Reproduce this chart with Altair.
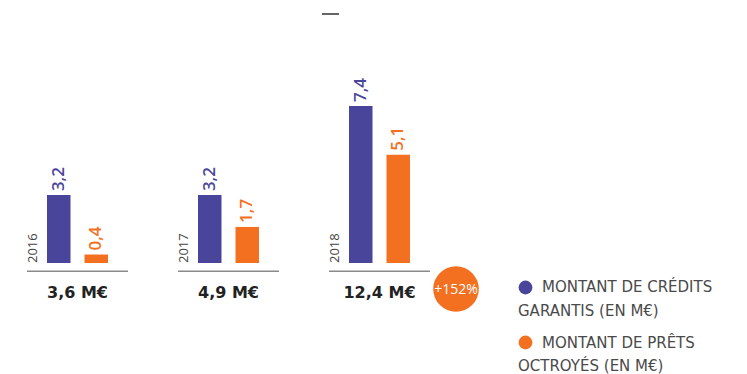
import altair as alt
import pandas as pd

years = ["2016", "2017", "2018"]
credits = [3.2, 3.2, 7.4]
prets = [0.4, 1.7, 5.1]
totals = ["3,6 M€", "4,9 M€", "12,4 M€"]
series = ["credits", "prets"]
growth = "+152%"
legend_lines_1 = ["MONTANT DE CRÉDITS", "GARANTIS (EN M€)"]
legend_lines_2 = ["MONTANT DE PRÊTS", "OCTROYÉS (EN M€)"]

PURPLE = "#48459b"
ORANGE = "#f37021"
FONT = "Open Sans"
WIDE = "DejaVu Sans"

rows = []
for i, y in enumerate(years):
    rows.append({"year": y, "series": "credits", "value": credits[i]})
    rows.append({"year": y, "series": "prets", "value": prets[i]})
df = pd.DataFrame(rows)
df["label"] = df["value"].map(lambda v: f"{v:.1f}".replace(".", ","))
tot = pd.DataFrame({"year": years, "total": totals})

xscale = alt.Scale(domain=years, range=[27, 430], paddingInner=50 / 151, paddingOuter=0)
xoff = alt.Scale(domain=series, paddingInner=14 / 37.5, paddingOuter=20 / 37.5)
yscale = alt.Scale(domain=[0, 7.4], range=[263, 106])
color = alt.Scale(domain=series, range=[PURPLE, ORANGE])

X = alt.X("year:N", scale=xscale, axis=None)
Y = alt.Y("value:Q", scale=yscale, axis=None)

base = alt.Chart(df)

bars = base.mark_bar().encode(
    x=X,
    xOffset=alt.XOffset("series:N", scale=xoff),
    y=Y,
    color=alt.Color("series:N", scale=color, legend=None),
)

vals = base.mark_text(angle=270, align="left", baseline="middle", dx=4,
                      font=FONT, fontSize=17, fontWeight=600).encode(
    x=X,
    xOffset=alt.XOffset("series:N", scale=xoff),
    y=Y,
    text="label:N",
    color=alt.Color("series:N", scale=color, legend=None),
)

tbase = alt.Chart(tot)
year_lbl = tbase.mark_text(angle=270, align="left", baseline="middle", dy=6,
                           font=FONT, fontSize=13, color="#444").encode(
    x=alt.X("year:N", scale=xscale, axis=None, bandPosition=0),
    y=alt.datum(0, scale=yscale),
    text="year:N",
)

rules = tbase.mark_bar(color="#8a8a8a").encode(
    x=X,
    y=alt.value(270.5),
    y2=alt.value(272),
)

tot_lbl = tbase.mark_text(font=WIDE, fontSize=16, fontWeight="bold", color="#222",
                          baseline="middle").encode(
    x=X,
    y=alt.value(293),
    text="total:N",
)

one = alt.Chart(pd.DataFrame({"g": [growth]}))
circle = one.mark_point(filled=True, shape="circle", opacity=1, color=ORANGE, size=2080).encode(
    x=alt.value(456), y=alt.value(289)
)
circle_txt = one.mark_text(font=FONT, fontSize=14, color="white", baseline="middle").encode(
    x=alt.value(456), y=alt.value(290), text="g:N"
)

leg_dots = alt.Chart(pd.DataFrame({"series": series, "yy": [287.5, 342.5]})).mark_point(
    filled=True, shape="circle", opacity=1, size=190
).encode(
    x=alt.value(525.5),
    y=alt.Y("yy:Q", scale=None),
    color=alt.Color("series:N", scale=color, legend=None),
)

leg_df = pd.DataFrame({
    "t": legend_lines_1 + legend_lines_2,
    "xx": [542, 518, 542, 518],
    "yy": [287, 311, 343, 366],
})
leg_txt = alt.Chart(leg_df).mark_text(font=WIDE, fontSize=15, color="#4a4a4a", align="left",
                                      baseline="middle").encode(
    x=alt.X("xx:Q", scale=None),
    y=alt.Y("yy:Q", scale=None),
    text="t:N",
)

dash = one.mark_rule(color="#333", strokeWidth=1.5).encode(
    x=alt.value(322), x2=alt.value(339), y=alt.value(14)
)

chart = alt.layer(
    rules, bars, vals, year_lbl, tot_lbl, circle, circle_txt, leg_dots, leg_txt, dash
).properties(
    width=747, height=374, padding=0, autosize=alt.AutoSizeParams(type="none")
).configure_view(stroke=None)

chart.save("out.html", embed_options={"renderer": "svg", "actions": False})
